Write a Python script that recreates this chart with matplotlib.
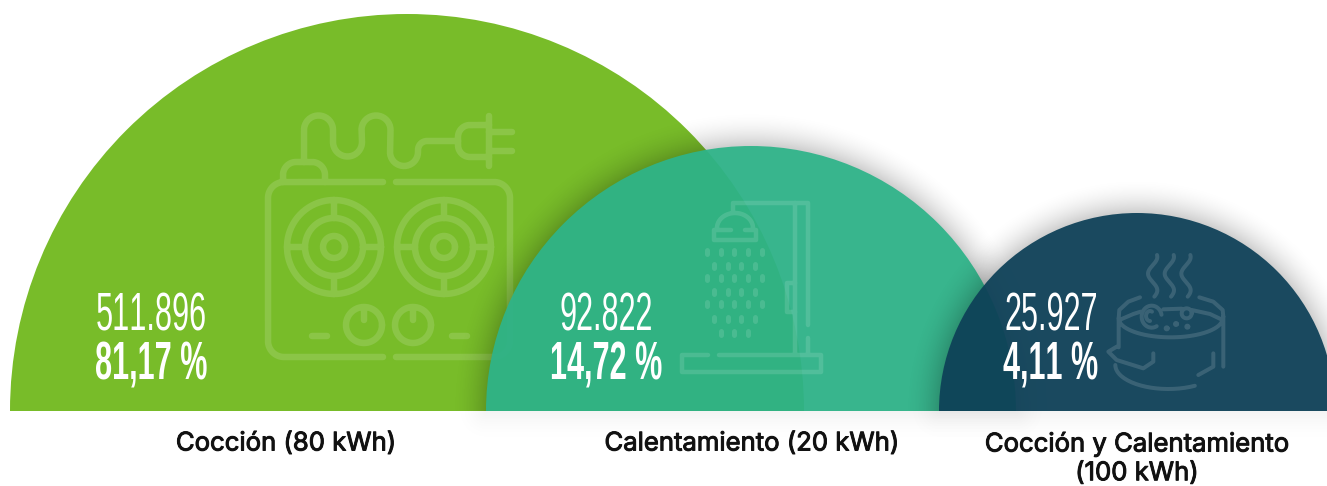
import numpy as np
import matplotlib
matplotlib.use("Agg")
import matplotlib.pyplot as plt
import matplotlib.patheffects as pe
from matplotlib.patches import Wedge, PathPatch
from matplotlib.path import Path
from matplotlib import font_manager as fm
from fontTools.ttLib import TTFont

categories = ["Cocción (80 kWh)", "Calentamiento (20 kWh)", "Cocción y Calentamiento\n(100 kWh)"]
counts = [511896, 92822, 25927]
percents = [81.17, 14.72, 4.11]

W, H = 1327, 486
BASE = 411
centers = [407, 751, 1137]
radii = [397, 265, 198]
colors = ["#78bc29", "#2eb489", "#0e4158"]
alphas = [1.0, 0.94, 0.94]
num_x = [151, 606, 1051]
label_x = [286, 752, 1137]


def stretched(family, weight, factor, newname):
    """Build a horizontally scaled copy of an installed font, so text stays real text."""
    src = fm.findfont(fm.FontProperties(family=family, weight=weight))
    font = TTFont(src, fontNumber=0)
    glyf = font["glyf"]
    hmtx = font["hmtx"]
    for name in font.getGlyphOrder():
        g = glyf[name]
        if g.isComposite():
            for comp in g.components:
                comp.x = int(round(comp.x * factor))
        elif g.numberOfContours > 0:
            g.coordinates.scale((factor, 1))
            g.coordinates.toInt()
        g.recalcBounds(glyf)
        adv, lsb = hmtx[name]
        hmtx[name] = (int(round(adv * factor)), int(round(lsb * factor)))
    for rec in font["name"].names:
        if rec.nameID in (1, 4, 6, 16):
            rec.string = newname
        elif rec.nameID in (2, 17):
            rec.string = "Regular"
    font["OS/2"].usWeightClass = 400
    font["OS/2"].fsSelection = 0x40
    font["head"].macStyle = 0
    for tag in ("kern", "GPOS", "GSUB", "fvar", "gvar", "STAT", "HVAR", "MVAR", "avar"):
        if tag in font:
            del font[tag]
    path = newname.replace(" ", "") + ".ttf"
    font.save(path)
    fm.fontManager.addfont(path)
    return newname


def safe(family, weight, factor, newname, fallback):
    try:
        return stretched(family, weight, factor, newname)
    except Exception:
        return fallback


num_font = safe("Liberation Sans", "normal", 0.58, "Cond Regular", "Liberation Sans")
pct_font = safe("Liberation Sans", "bold", 0.58, "Cond Bold", "Liberation Sans")
lab_font = safe("Inter", "semibold", 1.38, "Wide Label", "Inter")

fig = plt.figure(figsize=(W / 100, H / 100), dpi=100)
ax = fig.add_axes([0, 0, 1, 1])
ax.set_xlim(0, W)
ax.set_ylim(H, 0)
ax.axis("off")
PX = 72 / 100


def shadow(cx, r, z):
    yy, xx = np.mgrid[0:H, 0:W] + 0.5
    dx = np.abs(xx - cx)
    above = yy <= BASE
    d = np.where(above, np.hypot(xx - cx, yy - BASE) - r,
                 np.where(dx < r, yy - BASE, np.hypot(dx - r, yy - BASE)))
    d = np.clip(d, 0, None)
    a = 0.19 * np.clip(1 - d / 36, 0, 1) ** 2
    a = np.where(above, a, a * 0.25)
    rgba = np.zeros((H, W, 4))
    rgba[..., 3] = a
    ax.imshow(rgba, extent=(0, W, H, 0), zorder=z, aspect="auto", interpolation="bilinear")


class Icon:
    """Collects strokes into one compound path, so crossings do not add up in opacity."""

    def __init__(self, z, w, a):
        self.z, self.w, self.a = z, w, a
        self.v, self.c = [], []

    def line(self, pts):
        pts = list(pts)
        self.v += pts
        self.c += [Path.MOVETO] + [Path.LINETO] * (len(pts) - 1)

    def ring(self, cx, cy, r):
        self.line(arc(cx, cy, r, r, 0, 360, 80))

    def flush(self):
        ax.add_patch(PathPatch(Path(self.v, self.c), fc="none", ec="white", alpha=self.a,
                               lw=self.w * PX, capstyle="round", joinstyle="round", zorder=self.z))


def arc(cx, cy, rx, ry, t0, t1, n=40):
    t = np.radians(np.linspace(t0, t1, n))
    return list(zip(cx + rx * np.cos(t), cy + ry * np.sin(t)))


def hob(z):
    k = Icon(z, 6.5, 0.14)
    r = 16
    k.line([(383, 182)] + arc(268 + r, 182 + r, r, r, 270, 180)
           + arc(268 + r, 357 - r, r, r, 180, 90) + [(383, 357)])
    k.line([(396, 182)] + arc(510 - r, 182 + r, r, r, 270, 360)
           + arc(510 - r, 357 - r, r, r, 0, 90) + [(396, 357)])
    for cx in (334, 444):
        cy = 247
        k.ring(cx, cy, 47)
        k.ring(cx, cy, 29)
        k.ring(cx, cy, 11)
        for dx, dy in ((1, 0), (-1, 0), (0, 1), (0, -1)):
            k.line([(cx + 29 * dx, cy + 29 * dy), (cx + 47 * dx, cy + 47 * dy)])
    for cx in (364, 413):
        k.ring(cx, 325, 18)
        k.line([(cx, 310), (cx, 320)])
    k.line([(312, 336), (327, 336)])
    k.line([(452, 336), (467, 336)])
    k.line([(283, 182), (283, 175)] + arc(296, 175, 13, 13, 180, 270)
           + arc(312, 175, 13, 13, 270, 360) + [(325, 182)])
    k.line([(304, 162)] + arc(318.5, 130, 14.5, 14.5, 180, 360)
           + arc(347.5, 142, 14.5, 14.5, 180, 0)
           + arc(376, 130, 14.5, 14.5, 180, 360)
           + arc(404, 152, 14, 14, 180, 0)
           + arc(427, 150, 9, 9, 180, 270) + [(458, 141)])
    k.line([(489, 125), (470, 125)] + arc(470, 137, 12, 12, 270, 180)
           + arc(470, 145, 12, 12, 180, 90) + [(489, 157)])
    k.line([(489, 116), (489, 166)])
    k.line([(489, 132), (512, 132)])
    k.line([(489, 151), (512, 151)])
    k.flush()


def shower(z):
    k = Icon(z, 4.5, 0.13)
    k.line([(708, 355), (682, 355), (682, 372), (821, 372), (821, 355), (719, 355)])
    k.line([(733, 212), (733, 203), (808, 203), (808, 325)])
    k.line([(795, 203), (795, 353)])
    k.line([(808, 338), (808, 353)])
    k.line([(795, 283), (787, 283), (787, 312), (795, 312)])
    k.line(arc(735, 228, 18, 15, 180, 360))
    k.line([(731, 230), (714, 230), (714, 240), (756, 240), (756, 230), (745, 230)])
    k.flush()
    d = Icon(z, 5, 0.12)
    rows = [140 + zy / 3 for zy in (335, 377, 413, 457, 493, 537, 580)]
    odd = [682, 722, 763, 804, 845]
    even = [702, 743, 784, 825]
    last = [722, 763, 804]
    for i, y in enumerate(rows):
        xs = last if i == 6 else (odd if i % 2 == 0 else even)
        for zx in xs:
            x = 480 + zx / 3
            d.line([(x, y - 2), (x, y + 2)])
    d.flush()


def pot(z):
    k = Icon(z, 4, 0.14)
    X = lambda v: 930 + np.asarray(v, float) / 3
    Y = lambda v: 210 + np.asarray(v, float) / 3
    zl = lambda xs, ys: list(zip(X(xs), Y(ys)))
    for x0 in (668, 718, 768):
        t = np.linspace(0, 1, 30)
        k.line(zl(x0 + 14 * np.sin(t * 2 * np.pi * 1.25 + 1.2), 135 + t * 125))
    k.line(zl([630, 595, 568, 566], [262, 275, 300, 325]))
    k.line(zl([808, 850, 878, 880], [262, 275, 300, 320]))
    k.line(arc(X(722), Y(325), 52, 19, 0, 180))
    k.line(zl([568, 610, 632], [330, 312, 305]))
    k.line(zl([700, 755], [298, 296]))
    k.line(zl([785, 840, 878], [300, 312, 330]))
    k.line(zl([566, 566], [330, 412]))
    k.line(zl([880, 880], [320, 470]))
    k.line(zl([560, 535, 560, 640, 670, 670], [410, 425, 450, 475, 455, 430]))
    k.line(arc(X(715), Y(465), 53, 24, 180, 60))
    k.line(zl([850, 850, 805], [430, 470, 495]))
    k.ring(X(770), Y(310), 5)
    k.line(arc(X(665), Y(320), 10, 11, 60, 350))
    k.line(arc(X(660), Y(318), 4, 5, 90, 300))
    for zx, zy in ((710, 355), (738, 342), (772, 350)):
        k.ring(X(zx), Y(zy), 1)
    k.flush()


icons = [hob, shower, pot]
for i, (cx, r, c, al) in enumerate(zip(centers, radii, colors, alphas)):
    z = 2 + i * 3
    if i > 0:
        shadow(cx, r, z - 1)
    ax.add_patch(Wedge((cx, BASE), r, 180, 360, fc=c, ec="none", alpha=al, zorder=z))
    icons[i](z + 0.5)

ax.set_xlim(0, W)
ax.set_ylim(H, 0)

for x, n, p in zip(num_x, counts, percents):
    ax.text(x, 316.5, f"{n:,}".replace(",", "."), color="white", ha="center", va="center",
            family=num_font, fontsize=38, zorder=20)
    ax.text(x, 365, f"{p:.2f} %".replace(".", ","), color="white", ha="center", va="center",
            family=pct_font, fontsize=38, zorder=20)

for x, lab in zip(label_x, categories):
    multi = "\n" in lab
    ax.text(x, 432 if multi else 444, lab, color="#111111", ha="center",
            va="top" if multi else "center", family=lab_font, fontsize=18.5,
            linespacing=1.32, zorder=20,
            path_effects=[pe.withStroke(linewidth=0.7, foreground="#111111")])

fig.savefig("out.png", dpi=100)
